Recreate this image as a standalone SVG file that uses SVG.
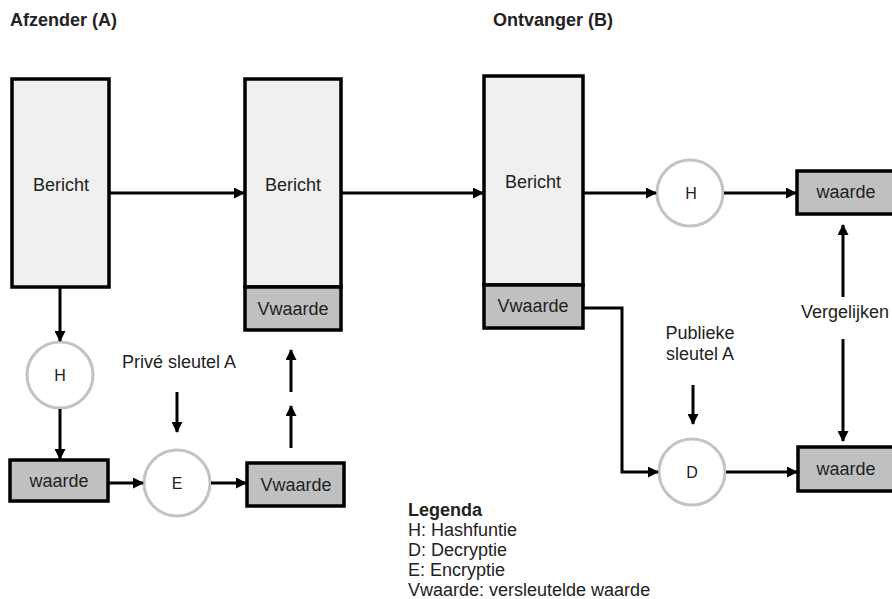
<svg xmlns="http://www.w3.org/2000/svg" width="892" height="599" viewBox="0 0 892 599">
  <style>
    text { font-family: "Liberation Sans", Arial, sans-serif; fill: #222; font-size: 18px; }
    .title { font-weight: bold; }
    .mid { text-anchor: middle; }
    .msg { fill: #f0f0f0; stroke: #000; stroke-width: 3.5; }
    .val { fill: #c0c0c0; stroke: #000; stroke-width: 3.5; }
    .op { fill: #fff; stroke: #c3c3c3; stroke-width: 3; }
    .op-label { font-size: 16px; }
    .conn { fill: none; stroke: #000; stroke-width: 3; marker-end: url(#arrow); }
  </style>
  <defs>
    <marker id="arrow" markerUnits="userSpaceOnUse" markerWidth="11" markerHeight="11" refX="10" refY="5.5" orient="auto">
      <path d="M0,0 L11,5.5 L0,11 z" fill="#000"/>
    </marker>
  </defs>

  <rect width="892" height="599" fill="#fff"/>

  <text class="title" x="10" y="26">Afzender (A)</text>
  <text class="title" x="493" y="26">Ontvanger (B)</text>

  <!-- sender side -->
  <g id="bericht-a">
    <rect class="msg" x="12" y="79" width="97" height="208"/>
    <text class="mid" x="61" y="191">Bericht</text>
  </g>
  <g id="hash-a">
    <circle class="op" cx="60" cy="375" r="33"/>
    <text class="mid op-label" x="60" y="381">H</text>
  </g>
  <g id="waarde-a">
    <rect class="val" x="10" y="460" width="98" height="41"/>
    <text class="mid" x="59" y="487">waarde</text>
  </g>
  <g id="encrypt-a">
    <circle class="op" cx="177" cy="483" r="33"/>
    <text class="mid op-label" x="177" y="489">E</text>
  </g>
  <g id="vwaarde-a">
    <rect class="val" x="247" y="463" width="97" height="43"/>
    <text class="mid" x="296" y="491">Vwaarde</text>
  </g>
  <g id="privkey-a">
    <text class="mid" x="179" y="368">Privé sleutel A</text>
  </g>

  <!-- message in transit -->
  <g id="bericht-signed">
    <rect class="msg" x="245" y="79" width="96" height="208"/>
    <text class="mid" x="293" y="191">Bericht</text>
    <rect class="val" x="245" y="287" width="96" height="43"/>
    <text class="mid" x="293" y="315">Vwaarde</text>
  </g>

  <!-- receiver side -->
  <g id="bericht-b">
    <rect class="msg" x="484" y="76" width="99" height="209"/>
    <text class="mid" x="533" y="188">Bericht</text>
    <rect class="val" x="484" y="285" width="99" height="43"/>
    <text class="mid" x="533" y="312">Vwaarde</text>
  </g>
  <g id="hash-b">
    <circle class="op" cx="690" cy="193" r="33"/>
    <text class="mid op-label" x="691" y="199">H</text>
  </g>
  <g id="waarde-b1">
    <rect class="val" x="797" y="171" width="98" height="43"/>
    <text class="mid" x="846" y="198">waarde</text>
  </g>
  <g id="decrypt-b">
    <circle class="op" cx="692" cy="472" r="33"/>
    <text class="mid op-label" x="692" y="478">D</text>
  </g>
  <g id="waarde-b2">
    <rect class="val" x="798" y="447" width="97" height="44"/>
    <text class="mid" x="846" y="475">waarde</text>
  </g>
  <g id="pubkey-b">
    <text class="mid" x="700" y="339">Publieke</text>
    <text class="mid" x="700" y="360">sleutel A</text>
  </g>
  <g id="compare">
    <text class="mid" x="845" y="318">Vergelijken</text>
  </g>

  <!-- legend -->
  <g id="legend">
    <text class="title" x="408" y="516">Legenda</text>
    <text x="408" y="536">H: Hashfuntie</text>
    <text x="408" y="556">D: Decryptie</text>
    <text x="408" y="576">E: Encryptie</text>
    <text x="408" y="596">Vwaarde: versleutelde waarde</text>
  </g>

  <!-- connectors -->
  <g id="connectors">
    <line class="conn" x1="110" y1="193" x2="244" y2="193"/>
    <line class="conn" x1="342" y1="193" x2="483" y2="193"/>
    <line class="conn" x1="60" y1="288" x2="60" y2="341"/>
    <line class="conn" x1="60" y1="409" x2="60" y2="459"/>
    <line class="conn" x1="109" y1="483" x2="143" y2="483"/>
    <line class="conn" x1="211" y1="483" x2="246" y2="483"/>
    <line class="conn" x1="177" y1="392" x2="177" y2="432"/>
    <line class="conn" x1="291" y1="448" x2="291" y2="406"/>
    <line class="conn" x1="291" y1="392" x2="291" y2="350"/>
    <line class="conn" x1="584" y1="193" x2="656" y2="193"/>
    <line class="conn" x1="724" y1="193" x2="796" y2="193"/>
    <polyline class="conn" points="584,308 622,308 622,472 658,472"/>
    <line class="conn" x1="693" y1="385" x2="693" y2="424"/>
    <line class="conn" x1="726" y1="472" x2="797" y2="472"/>
    <line class="conn" x1="843" y1="297" x2="843" y2="225"/>
    <line class="conn" x1="843" y1="339" x2="843" y2="441"/>
  </g>
</svg>
